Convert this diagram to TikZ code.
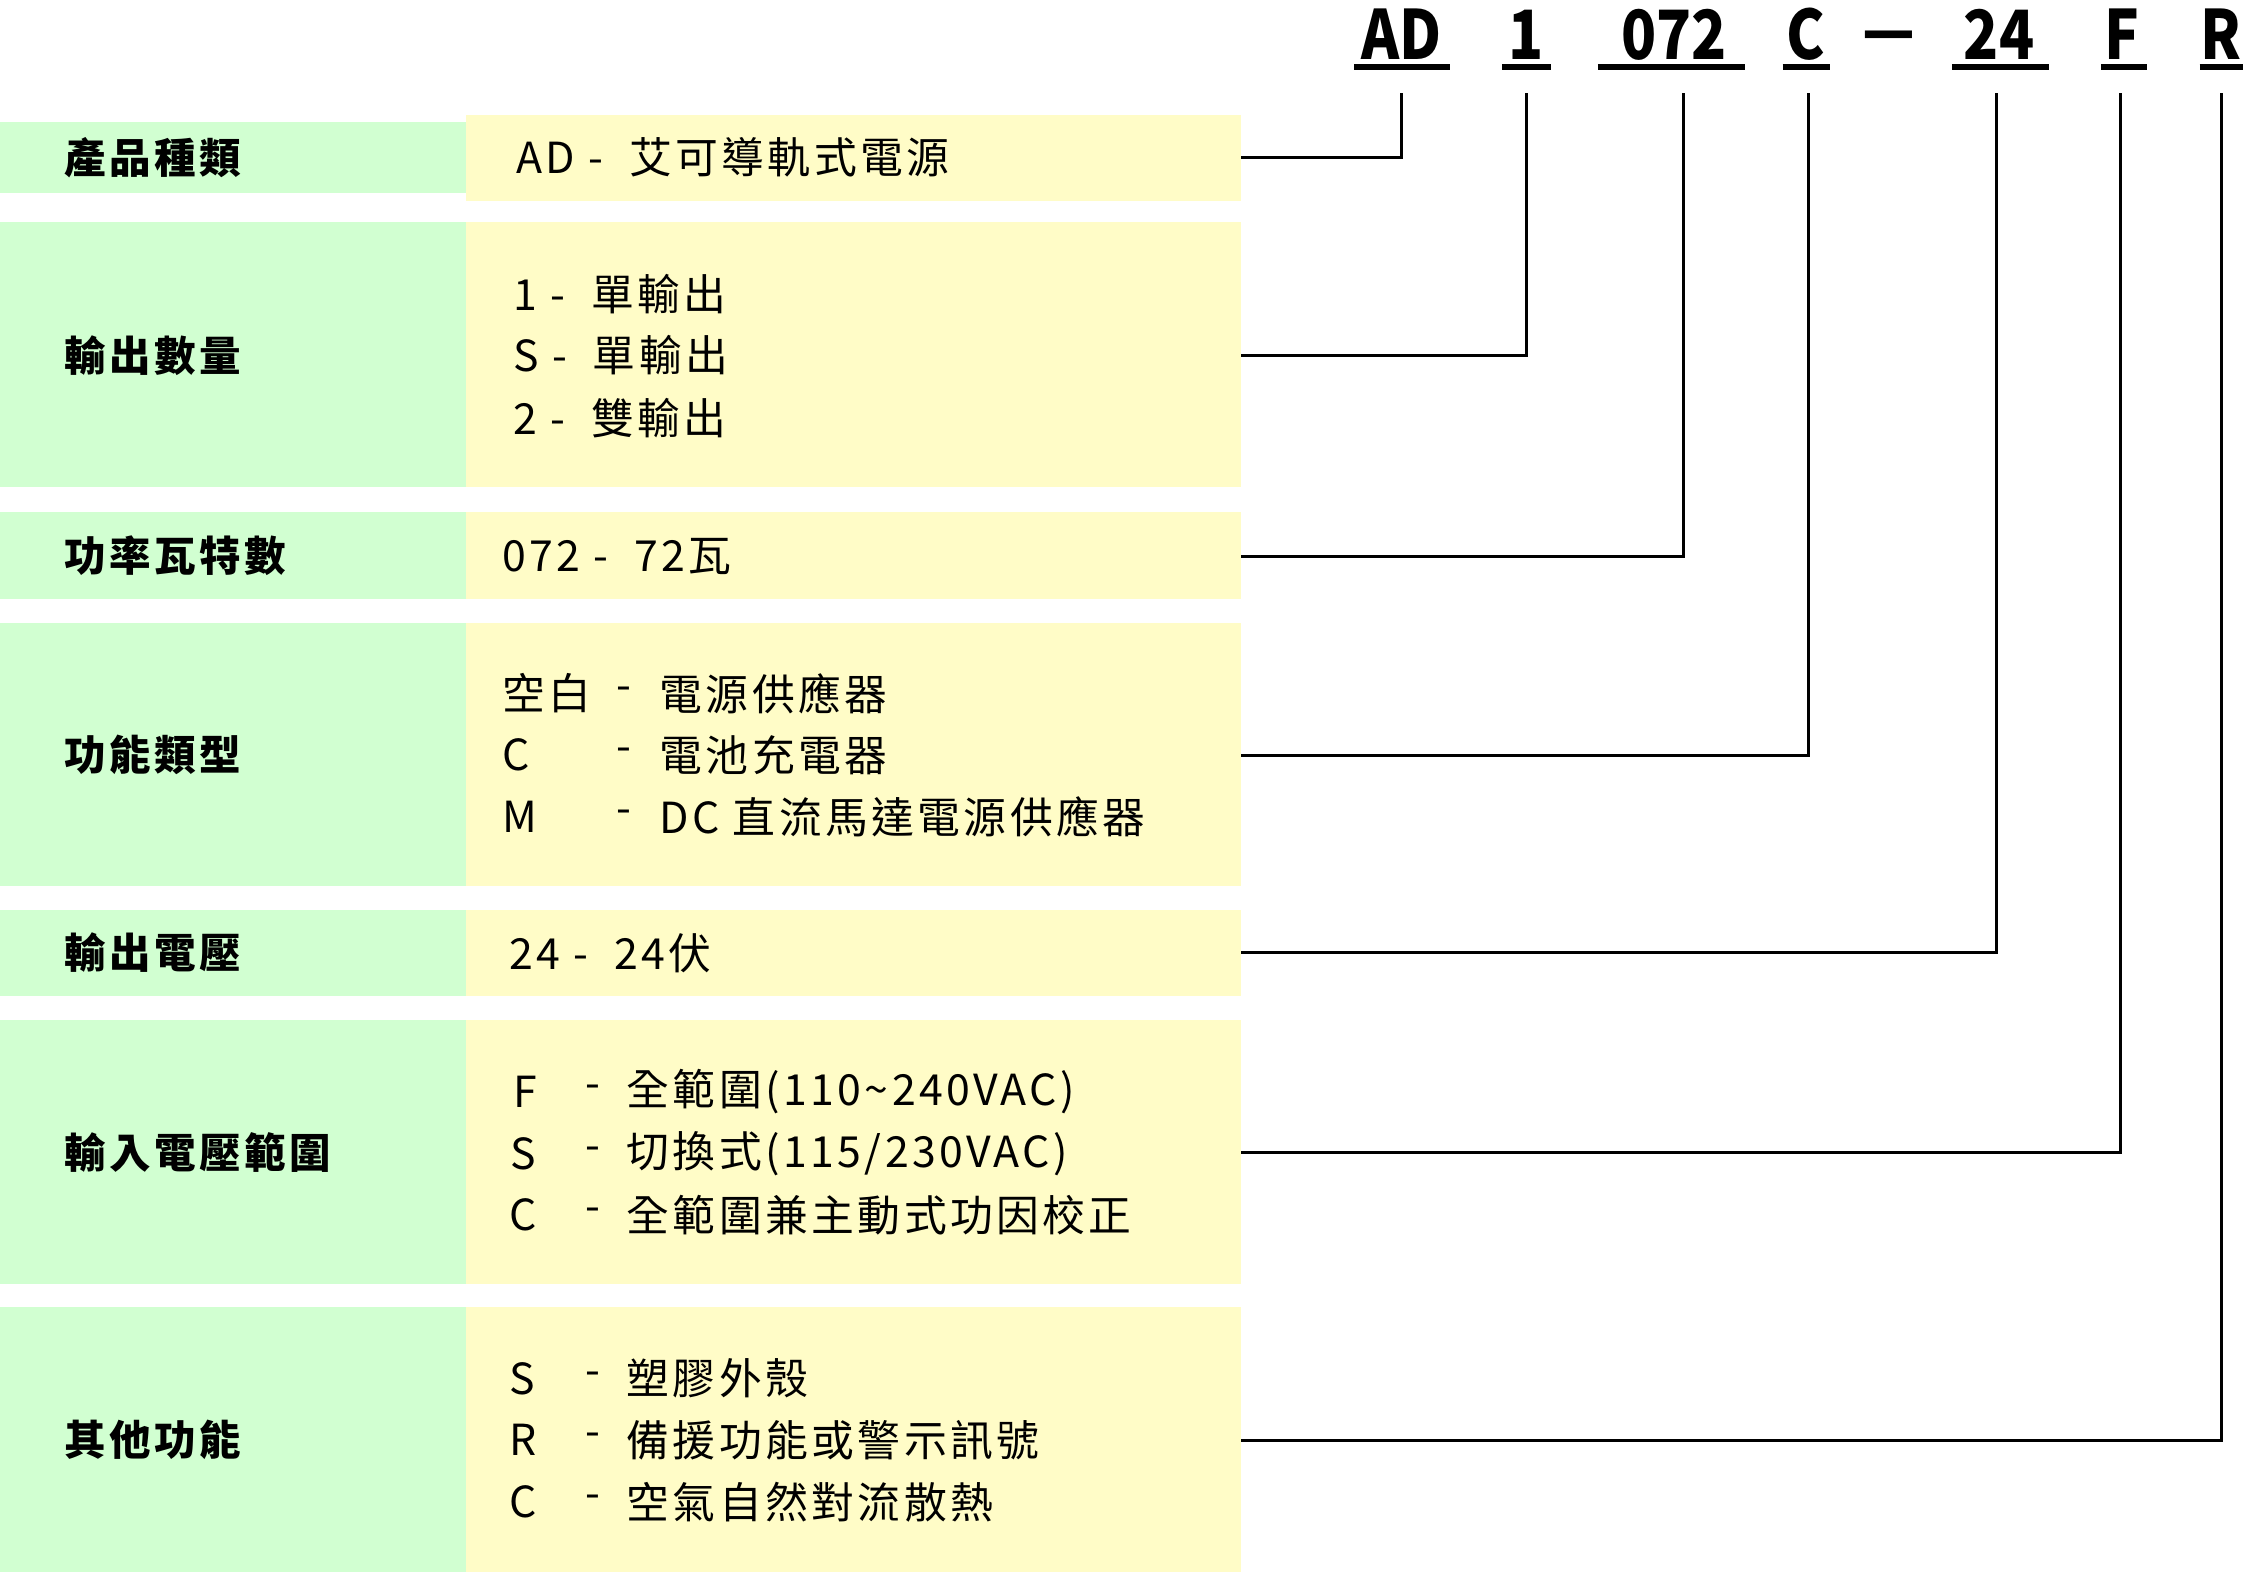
\documentclass[tikz,border=0pt]{standalone}
\usepackage{fontspec}
\setmainfont{Noto Sans CJK TC}[LetterSpace=8]
\newfontfamily\codefont{Noto Sans CJK TC}[FakeStretch=0.85]
\begin{document}
\begin{tikzpicture}[x=0.02cm,y=-0.02cm,
  gbox/.style={fill=green!18!white,draw=none},
  ybox/.style={fill=yellow!22!white,draw=none},
  lab/.style={anchor=west,inner sep=0,font=\fontsize{16.5}{16}\selectfont\bfseries},
  txt/.style={anchor=west,inner sep=0,font=\fontsize{17}{16}\selectfont},
  code/.style={inner sep=0,font=\codefont\fontsize{27}{27}\selectfont\bfseries},
  wire/.style={line width=1.2pt}]
\fill[white] (0,0) rectangle (1568,1097);
% boxes
\fill[gbox] (0,85) rectangle (325,135); \fill[ybox] (325,80) rectangle (866,140);
\foreach \a/\b in {155/340,357/418,435/618,635/695,712/896,912/1097}{
  \fill[gbox] (0,\a) rectangle (325,\b); \fill[ybox] (325,\a) rectangle (866,\b);}
% labels
\node[lab] (l1) at (45,110) {產品種類};
\node[lab] (l2) at (45,248) {輸出數量};
\node[lab] (l3) at (45,388) {功率瓦特數};
\node[lab] (l4) at (45,527) {功能類型};
\node[lab] (l5) at (45,665) {輸出電壓};
\node[lab] (l6) at (45,804) {輸入電壓範圍};
\node[lab] (l7) at (45,1005) {其他功能};
% texts
\node[txt] (t1) at (360,110) {AD - \ 艾可導軌式電源};
\node[txt] (t2a) at (358,205) {1 - \ 單輸出};
\node[txt] (t2b) at (358,248) {S - \ 單輸出};
\node[txt] (t2c) at (358,292) {2 - \ 雙輸出};
\node[txt] (t3) at (350,388) {072 - \ 72瓦};
\node[txt] (t4a) at (350,484) {空白}; \node[txt] (d4a) at (430,484) {-}; \node[txt] (e4a) at (460,484) {電源供應器};
\node[txt] (t4b) at (350,527) {C}; \node[txt] (d4b) at (430,527) {-}; \node[txt] (e4b) at (460,527) {電池充電器};
\node[txt] (t4c) at (350,570) {M}; \node[txt] (d4c) at (430,570) {-}; \node[txt] (e4c) at (460,570) {DC 直流馬達電源供應器};
\node[txt] (t5) at (355,665) {24 - \ 24伏};
\node[txt] (t6a) at (358,762) {F}; \node[txt] (d6a) at (408,762) {-}; \node[txt] (e6a) at (437,762) {全範圍(110\textasciitilde 240VAC)};
\node[txt] (t6b) at (356,805) {S}; \node[txt] (d6b) at (408,805) {-}; \node[txt] (e6b) at (437,805) {切換式(115/230VAC)};
\node[txt] (t6c) at (355,848) {C}; \node[txt] (d6c) at (408,848) {-}; \node[txt] (e6c) at (437,848) {全範圍兼主動式功因校正};
\node[txt] (t7a) at (355,962) {S}; \node[txt] (d7a) at (408,962) {-}; \node[txt] (e7a) at (437,962) {塑膠外殼};
\node[txt] (t7b) at (355,1005) {R}; \node[txt] (d7b) at (408,1005) {-}; \node[txt] (e7b) at (437,1005) {備援功能或警示訊號};
\node[txt] (t7c) at (355,1048) {C}; \node[txt] (d7c) at (408,1048) {-}; \node[txt] (e7c) at (437,1048) {空氣自然對流散熱};
% codes
\node[code] (cAD) at (978,24) {AD};
\node[code] (c1) at (1065,24) {1};
\node[code] (c072) at (1168,24) {072};
\node[code] (cC) at (1260,24) {C};
\node[code] (cdash) at (1318,30) {—};
\node[code] (c24) at (1395,24) {24};
\node[code] (cF) at (1481,24) {F};
\node[code] (cR) at (1550,24) {R};
\foreach \a/\b in {945/1012,1048/1082,1115/1218,1244/1277,1362/1430,1466/1498,1535/1565}
  \draw[line width=2.5pt] (\a,47) -- (\b,47);
% wires
\foreach \x/\y in {978/110,1065/248,1175/388,1262/527,1393/665,1480/804,1550/1005}
  \draw[wire] (\x,65) -- (\x,\y) -- (866,\y);
\end{tikzpicture}
\end{document}
